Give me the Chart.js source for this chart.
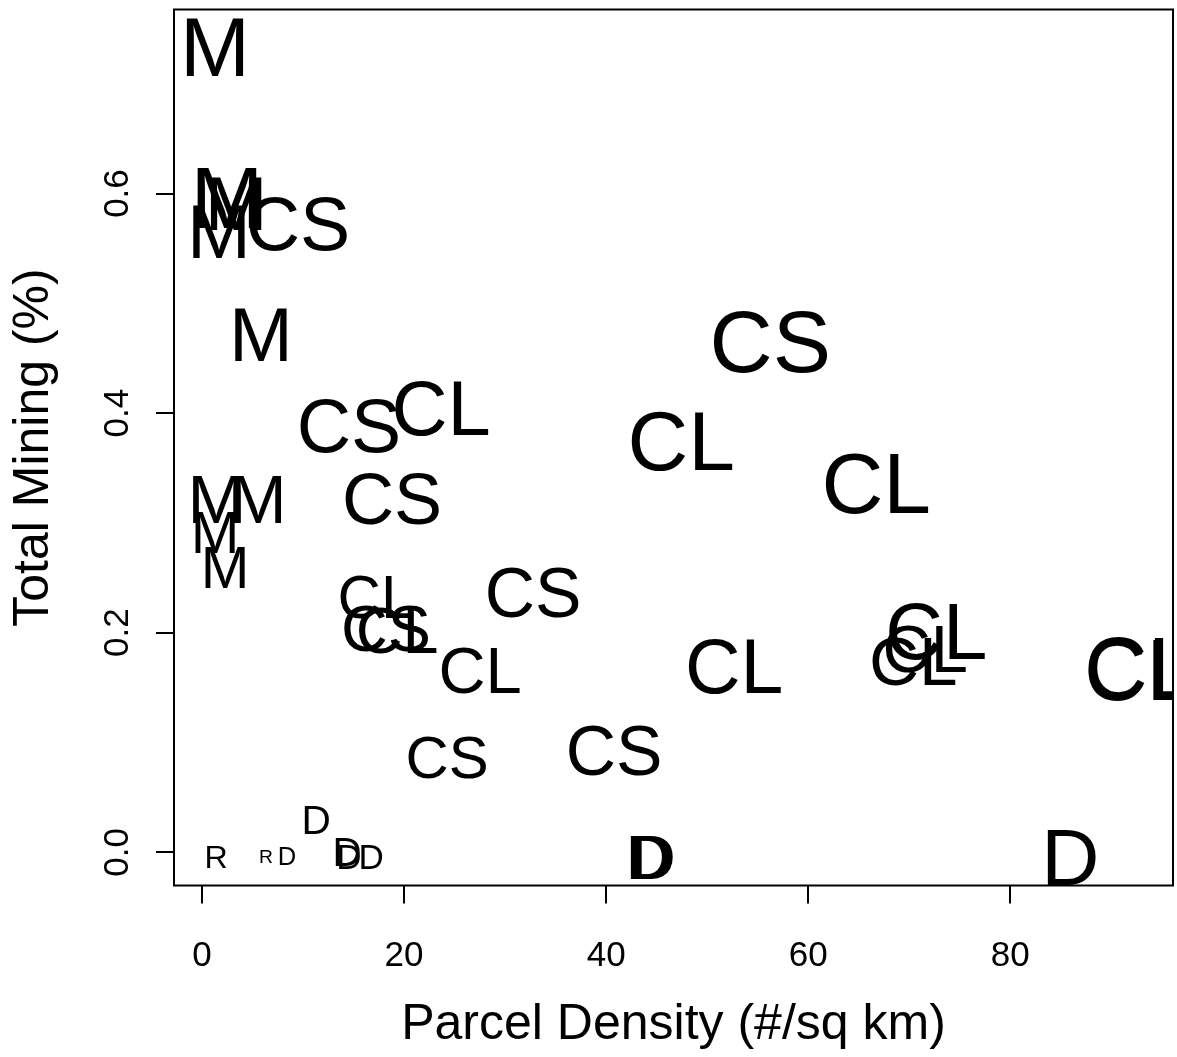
<!DOCTYPE html>
<html>
<head>
<meta charset="utf-8">
<script src="https://cdn.jsdelivr.net/npm/chart.js@4"></script>
<style>
  html, body { margin: 0; padding: 0; background: #fff; }
  #wrap { width: 1177px; height: 1057px; }
</style>
</head>
<body>
<div id="wrap"><canvas id="mixChart" width="1177" height="1057"></canvas></div>
<script>
// land use code of each site
var codes = ['M', 'M', 'M', 'CS', 'M', 'M', 'CS', 'CS', 'CL', 'CL',
             'CL', 'M', 'M', 'M', 'M', 'CS', 'CL', 'CS', 'CL', 'CL',
             'CS', 'CL', 'CL', 'CL', 'CL', 'CL', 'CL', 'CS', 'CS', 'D',
             'R', 'R', 'D', 'D', 'D', 'D', 'D', 'D', 'D'];
// parcels per sq km
var density = [1.29, 2.48, 3.37, 9.50, 1.68, 5.84, 56.24, 14.55, 23.66, 47.43,
               66.73, 1.39, 5.54, 1.29, 2.28, 18.81, 17.23, 18.22, 19.31, 27.52,
               32.77, 52.67, 72.67, 71.58, 70.40, 92.87, 92.75, 24.26, 40.79, 11.29,
               1.39, 6.34, 8.42, 14.36, 14.55, 16.73, 44.16, 44.65, 85.94];
// share of area in mining
var mining = [0.738, 0.601, 0.595, 0.577, 0.570, 0.476, 0.470, 0.393, 0.409, 0.379,
              0.341, 0.326, 0.326, 0.295, 0.263, 0.326, 0.237, 0.208, 0.206, 0.170,
              0.241, 0.174, 0.206, 0.190, 0.179, 0.173, 0.171, 0.091, 0.097, 0.034,
              0.000, 0.000, 0.000, 0.004, 0.000, 0.000, 0.000, 0.000, 0.000];
// relative label size (cex)
var weight = [2.40, 2.50, 2.15, 2.15, 2.19, 2.19, 2.50, 2.15, 2.22, 2.40,
              2.45, 1.96, 1.96, 1.67, 1.67, 2.06, 1.72, 1.85, 1.85, 1.86,
              1.99, 2.20, 2.28, 1.91, 1.98, 2.50, 2.47, 1.71, 1.99, 1.16,
              0.92, 0.55, 0.73, 1.15, 1.00, 1.00, 1.78, 1.78, 2.30];

var xTicks = [0, 20, 40, 60, 80];
var yTicks = [0, 0.2, 0.4, 0.6];
var yTickLabels = ['0.0', '0.2', '0.4', '0.6'];

var FONT = '"Liberation Sans", Arial, Helvetica, sans-serif';
var baseSize = 35;

var points = density.map(function (d, i) { return { x: d, y: mining[i] }; });

// write each site's code at its point, scaled by weight
var codeLabels = {
  id: 'codeLabels',
  afterDatasetsDraw: function (chart) {
    var ctx = chart.ctx, area = chart.chartArea;
    var meta = chart.getDatasetMeta(0);
    ctx.save();
    ctx.beginPath();
    ctx.rect(area.left, area.top, area.right - area.left, area.bottom - area.top);
    ctx.clip();
    ctx.fillStyle = '#000';
    ctx.textAlign = 'center';
    ctx.textBaseline = 'alphabetic';
    meta.data.forEach(function (pt, i) {
      var size = weight[i] * baseSize;
      ctx.font = size + 'px ' + FONT;
      ctx.fillText(codes[i], pt.x, pt.y + 4 + size * 0.358);
    });
    ctx.restore();
  }
};

// box round the plot region, plus vertical y tick labels
var frame = {
  id: 'frame',
  afterDraw: function (chart) {
    var ctx = chart.ctx, a = chart.chartArea, ys = chart.scales.y;
    ctx.save();
    ctx.strokeStyle = '#000';
    ctx.lineWidth = 2;
    ctx.strokeRect(a.left, a.top, a.right - a.left, a.bottom - a.top);
    ctx.fillStyle = '#000';
    ctx.font = baseSize + 'px ' + FONT;
    ctx.textAlign = 'center';
    ctx.textBaseline = 'middle';
    yTicks.forEach(function (v, i) {
      ctx.save();
      ctx.translate(ys.right - 56, ys.getPixelForValue(v));
      ctx.rotate(-Math.PI / 2);
      ctx.fillText(yTickLabels[i], 0, 0);
      ctx.restore();
    });
    ctx.restore();
  }
};

new Chart(document.getElementById('mixChart'), {
  type: 'scatter',
  data: {
    datasets: [{ data: points, pointRadius: 0, pointHoverRadius: 0 }]
  },
  options: {
    responsive: false,
    animation: false,
    devicePixelRatio: 1,
    events: [],
    layout: { padding: { top: 9.5, right: 4, left: 0, bottom: 0 } },
    plugins: { legend: { display: false }, tooltip: { enabled: false } },
    scales: {
      x: {
        type: 'linear',
        min: -2.77,
        max: 96.1,
        afterBuildTicks: function (s) { s.ticks = xTicks.map(function (v) { return { value: v }; }); },
        afterFit: function (s) { s.height = 171.5; },
        grid: { drawOnChartArea: false, color: '#000', lineWidth: 2, tickLength: 18 },
        border: { display: false },
        ticks: {
          color: '#000',
          font: { family: FONT, size: 35 },
          padding: 32,
          maxRotation: 0,
          autoSkip: false,
          callback: function (v) { return String(v); }
        },
        title: {
          display: true,
          text: 'Parcel Density (#/sq km)',
          color: '#000',
          font: { family: FONT, size: 50 },
          padding: { top: 0, bottom: 2 }
        }
      },
      y: {
        type: 'linear',
        min: -0.0302,
        max: 0.7676,
        afterBuildTicks: function (s) { s.ticks = yTicks.map(function (v) { return { value: v }; }); },
        afterFit: function (s) { s.width = 174; },
        grid: { drawOnChartArea: false, color: '#000', lineWidth: 2, tickLength: 18 },
        border: { display: false },
        ticks: { display: false },
        title: {
          display: true,
          text: 'Total Mining (%)',
          color: '#000',
          font: { family: FONT, size: 50 },
          padding: { top: 4, bottom: 0 }
        }
      }
    }
  },
  plugins: [codeLabels, frame]
});
</script>
</body>
</html>
